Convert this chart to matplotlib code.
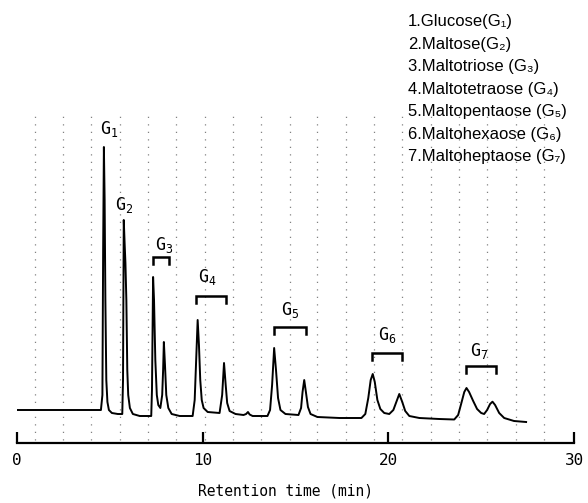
import matplotlib
matplotlib.use("Agg")
import matplotlib.pyplot as plt

# chromatogram trace (time in min, detector response in a.u.)
time_min = [0.00, 2.31, 4.19, 4.52, 4.60, 4.64, 4.68, 4.72, 4.76, 4.81, 4.87, 4.95,
            5.11, 5.43, 5.67, 5.71, 5.75, 5.80, 5.84, 5.89, 5.94, 5.99, 6.08, 6.24,
            6.61, 7.23, 7.27, 7.33, 7.38, 7.45, 7.53, 7.61, 7.72, 7.82, 7.87, 7.91,
            7.97, 8.04, 8.15, 8.33, 8.76, 9.46, 9.57, 9.65, 9.73, 9.80, 9.87, 9.95,
            10.05, 10.27, 10.91, 11.05, 11.15, 11.24, 11.32, 11.45, 11.77, 12.20,
            12.34, 12.44, 12.53, 12.69, 13.49, 13.63, 13.74, 13.85, 13.95, 14.06,
            14.19, 14.46, 15.16, 15.30, 15.38, 15.47, 15.56, 15.67, 15.81, 16.18,
            17.37, 18.55, 18.76, 18.92, 19.05, 19.16, 19.27, 19.41, 19.57, 19.78,
            20.05, 20.27, 20.43, 20.59, 20.75, 20.91, 21.13, 21.67, 22.74, 23.55,
            23.76, 23.92, 24.09, 24.21, 24.35, 24.57, 24.78, 25.00, 25.16, 25.32,
            25.48, 25.61, 25.75, 25.97, 26.24, 26.77, 27.42]
response = [0, 0, 0, 0, 15, 160, 263, 210, 110, 30, 8, 0,
            -3, -4, -4, 30, 190, 165, 147, 110, 40, 15, 2, -4,
            -6, -6, 20, 133, 110, 50, 15, 5, 2, 15, 40, 68,
            45, 15, 2, -4, -6, -6, 10, 50, 90, 65, 30, 10,
            2, -2, -3, 15, 47, 25, 7, -1, -4, -5,
            -4, -2, -4.5, -6, -6, 0, 25, 62, 40, 12,
            0, -4, -5, 2, 18, 30, 18, 3, -4, -7,
            -8, -8, -4, 12, 30, 36, 28, 10, 1, -3,
            -4, 0, 8, 16, 8, -1, -6, -8, -9, -9.5,
            -5, 6, 18, 22, 18, 9, 1, -3, -4, 0,
            6, 8.3, 5, -3, -8, -11, -12]

# peak labels G1..G7 and the brackets grouping the anomer peaks
label_sub = ["1", "2", "3", "4", "5", "6", "7"]
label_t = [4.95, 5.78, 7.90, 10.27, 14.73, 19.95, 24.87]
label_r = [281, 205, 165, 133, 100, 75, 59]
bracket_start = [7.31, 9.66, 13.82, 19.12, 24.18]
bracket_end = [8.17, 11.24, 15.57, 20.74, 25.82]
bracket_top = [153, 114, 83, 57, 44]

# chart paper lines visible in the scan
paper_lines = [0.97, 2.49, 4.01, 5.54, 7.04, 8.58, 10.11, 11.61, 13.15, 14.68,
               16.18, 17.71, 19.25, 20.75, 22.29, 23.82, 25.32, 26.86, 28.39]

legend_lines = ["1.Glucose(G\u2081)", "2.Maltose(G\u2082)", "3.Maltotriose (G\u2083)",
                "4.Maltotetraose (G\u2084)", "5.Maltopentaose (G\u2085)",
                "6.Maltohexaose (G\u2086)", "7.Maltoheptaose (G\u2087)"]

fig = plt.figure(figsize=(5.88, 5.03), dpi=100)
ax = fig.add_axes([17 / 588, 1 - 443 / 503, 557 / 588, 443 / 503])

for t in paper_lines:
    ax.plot([t, t], [-30, 300], color="0.3", lw=0.9, ls=(0, (1, 5)), alpha=0.7, zorder=1)

ax.plot(time_min, response, color="black", lw=1.4, zorder=3)

for sub, t, r in zip(label_sub, label_t, label_r):
    ax.text(t, r, r"$\mathtt{G}_{\mathtt{%s}}$" % sub, ha="center", va="center",
            fontsize=12, zorder=4)

for t0, t1, top in zip(bracket_start, bracket_end, bracket_top):
    ax.plot([t0, t0, t1, t1], [top - 7, top, top, top - 7], color="black", lw=1.8,
            solid_joinstyle="miter", zorder=4)

ax.set_xlim(0, 30)
ax.set_ylim(-33, 410)
for side in ["left", "right", "top"]:
    ax.spines[side].set_visible(False)
ax.spines["bottom"].set_linewidth(1.6)
ax.set_yticks([])
ax.set_xticks([0, 10, 20, 30])
ax.tick_params(axis="x", direction="in", length=8, width=1.6, pad=7)
for lab in ax.get_xticklabels():
    lab.set_fontfamily("DejaVu Sans Mono")
    lab.set_fontsize(11.5)
ax.set_xlabel("Retention time (min)", fontfamily="DejaVu Sans Mono", fontsize=10.5)
ax.xaxis.set_label_coords((286 - 17) / 557, -41 / 443)
ax.patch.set_alpha(0)

for i, line in enumerate(legend_lines):
    fig.text(408 / 588, 1 - (21.7 + 22.5 * i) / 503, line, ha="left", va="center",
             fontsize=12, family=["Liberation Sans", "DejaVu Sans"])

fig.savefig("out.png", dpi=100)
